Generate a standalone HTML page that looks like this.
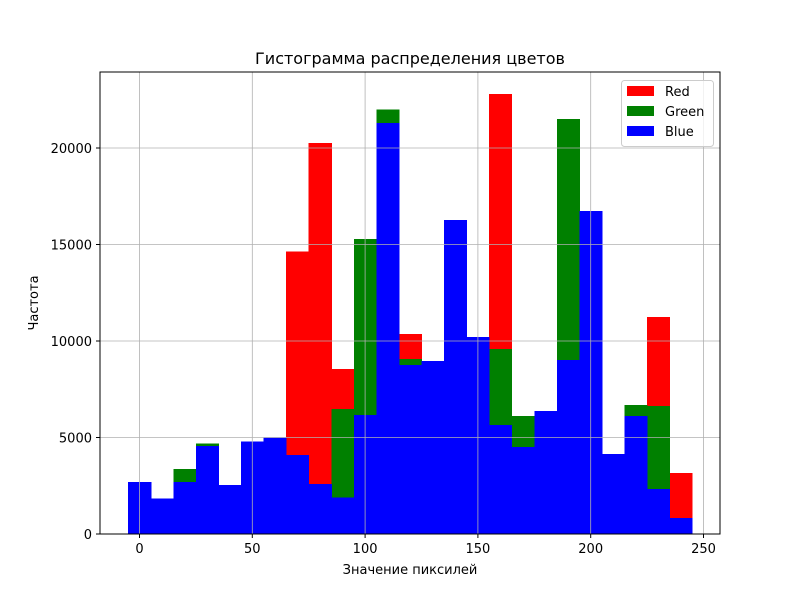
<!DOCTYPE html>
<html><head><meta charset="utf-8"><style>
body{margin:0;background:#fff;}
svg text{font-family:"DejaVu Sans","Liberation Sans",sans-serif;}
</style></head><body>
<svg id="chart" width="800" height="600" xmlns="http://www.w3.org/2000/svg">
<rect width="800" height="600" fill="#fff"/>
<g id="bars" shape-rendering="crispEdges"></g>
<g id="grid"></g>
<rect x="100" y="72" width="620" height="462" fill="none" stroke="#000" stroke-width="1"/>
<g id="axes"></g>
<text x="410" y="64" font-size="16" text-anchor="middle">Гистограмма распределения цветов</text>
<text x="410" y="574" font-size="13" text-anchor="middle">Значение пиксилей</text>
<text x="38" y="303" font-size="13" text-anchor="middle" transform="rotate(-90 38 303)">Частота</text>
<g>
<rect x="621.5" y="80.5" width="92" height="66" rx="3" fill="#fff" fill-opacity="0.8" stroke="#ccc"/>
<g><rect x="627" y="86" width="27" height="10" fill="#ff0000"/><text x="665" y="96" font-size="13">Red</text></g>
<g><rect x="627" y="106" width="27" height="10" fill="#008000"/><text x="665" y="116" font-size="13">Green</text></g>
<g><rect x="627" y="126" width="27" height="10" fill="#0000ff"/><text x="665" y="136" font-size="13">Blue</text></g>
</g>
</svg>
<script>
const binCenters=[0,10,20,30,40,50,60,70,80,90,100,110,120,130,140,150,160,170,180,190,200,210,220,230,240];
const redValues=[2000,1500,2500,4000,2300,4500,4800,14650,20250,8550,5500,20000,10360,8500,15000,9800,22800,4000,6000,8500,16000,3900,5500,11240,3160];
const greenValues=[2200,1600,3370,4700,2400,4600,4900,3900,2400,6480,15280,22000,9070,8800,16000,10000,9580,6110,6200,21500,16500,4000,6680,6630,700];
const blueValues=[2700,1850,2700,4560,2540,4800,5000,4100,2600,1900,6170,21300,8760,8960,16270,10200,5650,4500,6370,9020,16740,4150,6110,2330,830];
const xTicks=[0,50,100,150,200,250];
const yTicks=[0,5000,10000,15000,20000];
const binWidth=10;
const NS="http://www.w3.org/2000/svg";
function xs(v){return 139.5+v*(703.5-139.5)/250;}
function ys(v){return 534-v*(534-148)/20000;}
function mk(tag,attrs,parent){const e=document.createElementNS(NS,tag);for(const k in attrs)e.setAttribute(k,attrs[k]);parent.appendChild(e);return e;}
const bars=document.getElementById('bars');
[[redValues,'#ff0000','red'],[greenValues,'#008000','green'],[blueValues,'#0000ff','blue']].forEach(([vals,col,nm])=>{
  vals.forEach((v,i)=>{
    const x0=xs(binCenters[i]-binWidth/2),x1=xs(binCenters[i]+binWidth/2);
    const r=mk('rect',{x:x0,y:ys(v),width:x1-x0+0.5,height:534-ys(v),fill:col},bars);
    
    
  });
});
const grid=document.getElementById('grid'),axes=document.getElementById('axes');
xTicks.forEach(t=>{
  const x=xs(t);
  const g=mk('line',{x1:x,x2:x,y1:72,y2:534,stroke:'#b0b0b0','stroke-width':0.8},grid);
  
  
  mk('line',{x1:x,x2:x,y1:534,y2:538,stroke:'#000'},axes);
  const tx=mk('text',{x:x,y:553,'font-size':13,'text-anchor':'middle'},axes);
  tx.textContent=t;
  
  
});
yTicks.forEach(t=>{
  const y=ys(t);
  const g=mk('line',{x1:100,x2:720,y1:y,y2:y,stroke:'#b0b0b0','stroke-width':0.8},grid);
  
  
  mk('line',{x1:96,x2:100,y1:y,y2:y,stroke:'#000'},axes);
  const tx=mk('text',{x:92,y:y+5,'font-size':13,'text-anchor':'end'},axes);
  tx.textContent=t;
  
  
});
</script>
</body></html>
